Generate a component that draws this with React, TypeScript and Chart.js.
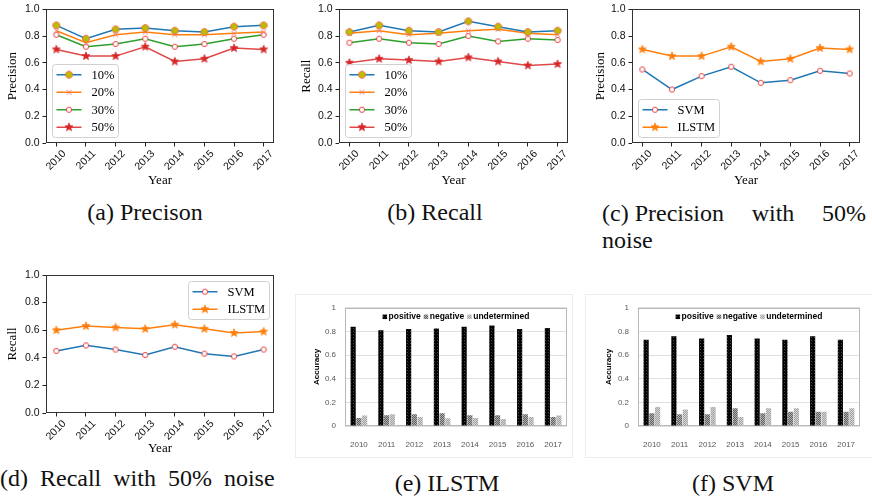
import React, { useEffect, useRef } from 'react';
import { Chart, registerables } from 'chart.js';
Chart.register(...registerables);

// ---------------- data ----------------
const years = [2010, 2011, 2012, 2013, 2014, 2015, 2016, 2017];
const yTicks = [0, 0.2, 0.4, 0.6, 0.8, 1.0];

const noiseLabels = ['10%', '20%', '30%', '50%'];
const methodLabels = ['SVM', 'ILSTM'];
const barLabels = ['positive', 'negative', 'undetermined'];

const precision10 = [0.88, 0.78, 0.85, 0.86, 0.84, 0.83, 0.87, 0.88];
const precision20 = [0.84, 0.75, 0.81, 0.83, 0.81, 0.81, 0.82, 0.83];
const precision30 = [0.81, 0.72, 0.74, 0.78, 0.72, 0.74, 0.78, 0.81];
const precision50 = [0.70, 0.65, 0.65, 0.72, 0.61, 0.63, 0.71, 0.70];

const recall10 = [0.83, 0.88, 0.84, 0.83, 0.91, 0.87, 0.83, 0.84];
const recall20 = [0.82, 0.84, 0.81, 0.82, 0.84, 0.85, 0.82, 0.81];
const recall30 = [0.75, 0.78, 0.75, 0.74, 0.80, 0.76, 0.78, 0.77];
const recall50 = [0.60, 0.63, 0.62, 0.61, 0.64, 0.61, 0.58, 0.59];

const svmPrecision = [0.55, 0.40, 0.50, 0.57, 0.45, 0.47, 0.54, 0.52];
const ilstmPrecision = [0.70, 0.65, 0.65, 0.72, 0.61, 0.63, 0.71, 0.70];
const svmRecall = [0.45, 0.49, 0.46, 0.42, 0.48, 0.43, 0.41, 0.46];
const ilstmRecall = [0.60, 0.63, 0.62, 0.61, 0.64, 0.61, 0.58, 0.59];

const ilstmPositive = [0.84, 0.81, 0.82, 0.825, 0.84, 0.85, 0.82, 0.83];
const ilstmNegative = [0.068, 0.09, 0.10, 0.107, 0.09, 0.09, 0.10, 0.077];
const ilstmUndetermined = [0.088, 0.10, 0.077, 0.066, 0.068, 0.06, 0.077, 0.088];

const svmPositive = [0.73, 0.76, 0.74, 0.77, 0.74, 0.73, 0.76, 0.73];
const svmNegative = [0.107, 0.10, 0.10, 0.15, 0.107, 0.12, 0.12, 0.12];
const svmUndetermined = [0.16, 0.14, 0.16, 0.077, 0.15, 0.15, 0.12, 0.15];

// ---------------- styles ----------------
const SERIF = "'Liberation Serif', serif";
const SANS = "'Liberation Sans', sans-serif";

function makeMarker(kind: string, fill: string, stroke: string, r: number, lw = 1): HTMLCanvasElement {
  const size = Math.ceil(r * 2 + lw * 2 + 4);
  const c = document.createElement('canvas');
  c.width = size;
  c.height = size;
  const g = c.getContext('2d')!;
  const cx = size / 2, cy = size / 2;
  g.lineWidth = lw;
  g.fillStyle = fill;
  g.strokeStyle = stroke;
  g.beginPath();
  if (kind === 'octagon') {
    for (let k = 0; k < 8; k++) {
      const a = Math.PI / 8 + (k * Math.PI) / 4;
      const px = cx + r * Math.cos(a), py = cy + r * Math.sin(a);
      if (k) g.lineTo(px, py); else g.moveTo(px, py);
    }
    g.closePath();
    g.fill();
    g.stroke();
  } else if (kind === 'circle') {
    g.arc(cx, cy, r, 0, Math.PI * 2);
    g.fill();
    g.stroke();
  } else if (kind === 'star') {
    for (let k = 0; k < 10; k++) {
      const rr = k % 2 === 0 ? r : r * 0.42;
      const a = -Math.PI / 2 + (k * Math.PI) / 5;
      const px = cx + rr * Math.cos(a), py = cy + rr * Math.sin(a);
      if (k) g.lineTo(px, py); else g.moveTo(px, py);
    }
    g.closePath();
    g.fill();
    g.stroke();
  } else if (kind === 'x') {
    g.moveTo(cx - r, cy - r);
    g.lineTo(cx + r, cy + r);
    g.moveTo(cx + r, cy - r);
    g.lineTo(cx - r, cy + r);
    g.stroke();
  }
  return c;
}

function makePattern(rows: string[][]): CanvasPattern {
  const c = document.createElement('canvas');
  c.width = rows[0].length;
  c.height = rows.length;
  const g = c.getContext('2d')!;
  rows.forEach((row, y) => row.forEach((col, x) => { g.fillStyle = col; g.fillRect(x, y, 1, 1); }));
  return g.createPattern(c, 'repeat')!;
}

// ---------------- plugins ----------------
function framePlugin(color: string, before = false) {
  const draw = (chart: any) => {
    const { ctx, chartArea: a } = chart;
    ctx.save();
    ctx.strokeStyle = color;
    ctx.lineWidth = 1;
    const l = Math.round(a.left) + 0.5, t = Math.round(a.top) + 0.5;
    const r = Math.round(a.right) - 0.5, b = Math.round(a.bottom) - 0.5;
    ctx.strokeRect(l, t, r - l, b - t);
    ctx.restore();
  };
  return before ? { id: 'frame', beforeDatasetsDraw: draw } : { id: 'frame', afterDatasetsDraw: draw };
}

type LegItem = { label: string; color: string; marker: HTMLCanvasElement };

function boxLegendPlugin(items: LegItem[], loc: string) {
  return {
    id: 'boxLegend',
    afterDraw(chart: any) {
      const { ctx, chartArea: a } = chart;
      ctx.save();
      ctx.font = `12.5px ${SERIF}`;
      const inset = 6, padX = 4, lineLen = 25, gap = 10, padY = 1.5, rowH = 17.5, padR = 4;
      const tw = Math.max(...items.map((i) => ctx.measureText(i.label).width));
      const w = padX + lineLen + gap + tw + padR;
      const h = padY * 2 + rowH * items.length;
      let x0: number, y0: number;
      if (loc === 'lower left') { x0 = a.left + inset; y0 = a.bottom - inset - h; }
      else { x0 = a.right - inset - w; y0 = a.top + inset; }
      x0 = Math.round(x0) + 0.5; y0 = Math.round(y0) + 0.5;
      ctx.beginPath();
      ctx.roundRect(x0, y0, Math.round(w), Math.round(h), 3);
      ctx.fillStyle = 'rgba(255,255,255,0.85)';
      ctx.fill();
      ctx.strokeStyle = '#d0d0d0';
      ctx.lineWidth = 1;
      ctx.stroke();
      items.forEach((it, i) => {
        const cy = y0 + padY + rowH * (i + 0.5);
        const lx = x0 + padX;
        ctx.beginPath();
        ctx.strokeStyle = it.color;
        ctx.lineWidth = 1.5;
        ctx.moveTo(lx, cy);
        ctx.lineTo(lx + lineLen, cy);
        ctx.stroke();
        const m = it.marker;
        ctx.drawImage(m, lx + lineLen / 2 - m.width / 2, cy - m.height / 2);
        ctx.fillStyle = '#000';
        ctx.textBaseline = 'middle';
        ctx.textAlign = 'left';
        ctx.fillText(it.label, lx + lineLen + gap, cy + 0.5);
      });
      ctx.restore();
    },
  };
}

function rowLegendPlugin(items: { label: string; fill: any }[]) {
  return {
    id: 'rowLegend',
    afterDraw(chart: any) {
      const { ctx, chartArea: a } = chart;
      ctx.save();
      ctx.font = `bold 8.5px ${SANS}`;
      ctx.textBaseline = 'middle';
      const sq = 4.5, g1 = 1.5, g2 = 3;
      const ws = items.map((i) => ctx.measureText(i.label).width);
      const total = ws.reduce((s, w) => s + sq + g1 + w, 0) + g2 * (items.length - 1);
      let x = (a.left + a.right) / 2 - total / 2;
      const y = a.top + 9;
      items.forEach((it, i) => {
        ctx.fillStyle = it.fill;
        ctx.fillRect(x, y - sq / 2, sq, sq);
        x += sq + g1;
        ctx.fillStyle = '#000';
        ctx.fillText(it.label, x, y);
        x += ws[i] + g2;
      });
      ctx.restore();
    },
  };
}

// ---------------- configs ----------------
type Geo = { w: number; h: number; yW: number; padTop: number; padRight: number; xH: number; yTitlePad: number; xTitlePad: number };

function lineConfig(series: LegItem[], values: number[][], yTitle: string, geo: Geo, loc: string) {
  return {
    type: 'line',
    data: {
      datasets: series.map((s, i) => ({
        label: s.label,
        data: years.map((x, j) => ({ x, y: values[i][j] })),
        borderColor: s.color,
        backgroundColor: s.color,
        borderWidth: 1.5,
        pointStyle: s.marker,
        pointRadius: 4,
        fill: false,
        tension: 0,
      })),
    },
    options: {
      animation: false,
      responsive: false,
      maintainAspectRatio: false,
      events: [],
      layout: { padding: { top: geo.padTop, right: geo.padRight, left: 0, bottom: 0 } },
      plugins: { legend: { display: false }, tooltip: { enabled: false } },
      scales: {
        x: {
          type: 'linear',
          min: 2009.65,
          max: 2017.35,
          afterBuildTicks: (s: any) => { s.ticks = years.map((v) => ({ value: v })); },
          afterFit: (s: any) => { s.height = geo.xH; },
          ticks: {
            autoSkip: false, maxRotation: 45, minRotation: 45, labelOffset: 8, padding: 1,
            font: { family: SANS, size: 10.5 }, color: '#111',
            callback: (v: any) => String(v),
          },
          grid: { display: true, drawOnChartArea: false, drawTicks: true, tickLength: 3.5, color: '#222' },
          border: { display: false },
          title: { display: true, text: 'Year', color: '#000', font: { family: SERIF, size: 13 }, padding: { top: 0, bottom: geo.xTitlePad } },
        },
        y: {
          type: 'linear',
          min: 0,
          max: 1,
          afterBuildTicks: (s: any) => { s.ticks = yTicks.map((v) => ({ value: v })); },
          afterFit: (s: any) => { s.width = geo.yW; },
          ticks: { font: { family: SANS, size: 10.5 }, color: '#111', padding: 3, callback: (v: any) => Number(v).toFixed(1) },
          grid: { display: true, drawOnChartArea: false, drawTicks: true, tickLength: 3.5, color: '#222' },
          border: { display: false },
          title: { display: true, text: yTitle, color: '#000', font: { family: SERIF, size: 13 }, padding: { top: geo.yTitlePad, bottom: 0 } },
        },
      },
    },
    plugins: [framePlugin('#333'), boxLegendPlugin(series, loc)],
  };
}

function barConfig(values: number[][], fills: any[], geo: Geo) {
  return {
    type: 'bar',
    data: {
      labels: years.map(String),
      datasets: barLabels.map((label, i) => ({
        label,
        data: values[i],
        backgroundColor: fills[i],
        borderWidth: 0,
        categoryPercentage: 0.62,
        barPercentage: 0.9,
      })),
    },
    options: {
      animation: false,
      responsive: false,
      maintainAspectRatio: false,
      events: [],
      layout: { padding: { top: geo.padTop, right: geo.padRight, left: 0, bottom: 0 } },
      plugins: { legend: { display: false }, tooltip: { enabled: false } },
      scales: {
        x: {
          afterFit: (s: any) => { s.height = geo.xH; },
          ticks: { font: { family: SANS, size: 8 }, color: '#595959', padding: 6 },
          grid: { display: false },
          border: { display: false },
        },
        y: {
          min: 0,
          max: 1,
          afterBuildTicks: (s: any) => { s.ticks = yTicks.map((v) => ({ value: v })); },
          afterFit: (s: any) => { s.width = geo.yW; },
          ticks: {
            font: { family: SANS, size: 8 }, color: '#595959', padding: 9,
            callback: (v: any) => (v === 0 ? '0' : v === 1 ? '1' : Number(v).toFixed(1)),
          },
          grid: { color: '#e0e0e0', drawTicks: false, lineWidth: 1 },
          border: { display: false },
          title: { display: true, text: 'Accuracy', color: '#000', font: { family: SANS, size: 8, weight: 'bold' }, padding: { top: geo.yTitlePad, bottom: 0 } },
        },
      },
    },
    plugins: [framePlugin('#b8b8b8', true), rowLegendPlugin(barLabels.map((label, i) => ({ label, fill: fills[i] })))],
  };
}

// ---------------- component ----------------
function ChartBox({ make, left, top, width, height }: { make: () => any; left: number; top: number; width: number; height: number }) {
  const ref = useRef<HTMLCanvasElement>(null);
  useEffect(() => {
    const chart = new Chart(ref.current as HTMLCanvasElement, make());
    return () => chart.destroy();
  }, []);
  return <canvas ref={ref} width={width} height={height} style={{ position: 'absolute', left, top, width, height }} />;
}

const capStyle: React.CSSProperties = {
  position: 'absolute',
  fontFamily: SERIF,
  fontSize: 24,
  lineHeight: '24px',
  color: '#111',
  whiteSpace: 'nowrap',
};

function Caption({ text, cx, cy, left }: { text: string; cx?: number; cy: number; left?: number }) {
  if (left !== undefined) {
    return <div style={{ ...capStyle, left, top: cy - 12, wordSpacing: 6 }}>{text}</div>;
  }
  return <div style={{ ...capStyle, left: (cx as number) - 200, width: 400, top: cy - 12, textAlign: 'center' }}>{text}</div>;
}

export default function App() {
  const makers = () => {
    const m10 = makeMarker('octagon', '#bcbc00', '#f06a4a', 3.6, 1);
    const m20 = makeMarker('x', 'rgba(0,0,0,0)', '#f07a7a', 2.4, 1);
    const m30 = makeMarker('circle', '#ffffff', '#e84545', 2.6, 1);
    const m50 = makeMarker('star', '#d62728', '#d62728', 4.2, 0.8);
    const mStarO = makeMarker('star', '#ff7f0e', '#ff7f0e', 4.2, 0.8);
    return { m10, m20, m30, m50, mStarO };
  };

  const noiseSeries = () => {
    const { m10, m20, m30, m50 } = makers();
    const colors = ['#1f77b4', '#ff7f0e', '#2ca02c', '#e04848'];
    const marks = [m10, m20, m30, m50];
    return noiseLabels.map((label, i) => ({ label, color: colors[i], marker: marks[i] }));
  };
  const methodSeries = () => {
    const { m30, mStarO } = makers();
    const colors = ['#1f77b4', '#ff7f0e'];
    const marks = [m30, mStarO];
    return methodLabels.map((label, i) => ({ label, color: colors[i], marker: marks[i] }));
  };
  const fills = () => [
    makePattern([['#000', '#000', '#000'], ['#000', '#4a4a4a', '#000'], ['#000', '#000', '#1a1a1a']]),
    makePattern([['#606060', '#b0b0b0'], ['#b0b0b0', '#606060']]),
    makePattern([['#a2a2a2', '#d6d6d6'], ['#d6d6d6', '#a2a2a2']]),
  ];

  const geoA: Geo = { w: 290, h: 195, yW: 46, padTop: 6, padRight: 16, xH: 52, yTitlePad: 5, xTitlePad: 7 };
  const geoB: Geo = { w: 290, h: 195, yW: 49, padTop: 6, padRight: 12, xH: 52, yTitlePad: 9, xTitlePad: 7 };
  const geoC: Geo = { w: 292, h: 195, yW: 52, padTop: 6, padRight: 12, xH: 52, yTitlePad: 13, xTitlePad: 7 };
  const geoD: Geo = { w: 290, h: 200, yW: 46, padTop: 15, padRight: 16, xH: 47, yTitlePad: 5, xTitlePad: 4 };
  const geoE: Geo = { w: 278, h: 164, yW: 50, padTop: 10, padRight: 6, xH: 32, yTitlePad: 17, xTitlePad: 0 };
  const geoF: Geo = { w: 281, h: 164, yW: 53, padTop: 10, padRight: 6, xH: 32, yTitlePad: 19, xTitlePad: 0 };

  return (
    <div style={{ position: 'absolute', left: 0, top: 0, width: 872, height: 498, background: '#fff', overflow: 'hidden' }}>
      <ChartBox left={0} top={0} width={geoA.w} height={geoA.h}
        make={() => lineConfig(noiseSeries(), [precision10, precision20, precision30, precision50], 'Precision', geoA, 'lower left')} />
      <ChartBox left={290} top={0} width={geoB.w} height={geoB.h}
        make={() => lineConfig(noiseSeries(), [recall10, recall20, recall30, recall50], 'Recall', geoB, 'lower left')} />
      <ChartBox left={580} top={0} width={geoC.w} height={geoC.h}
        make={() => lineConfig(methodSeries(), [svmPrecision, ilstmPrecision], 'Precision', geoC, 'lower left')} />
      <ChartBox left={0} top={260} width={geoD.w} height={geoD.h}
        make={() => lineConfig(methodSeries(), [svmRecall, ilstmRecall], 'Recall', geoD, 'upper right')} />

      <div style={{ position: 'absolute', left: 295, top: 294, width: 276, height: 162, border: '1px solid #ececec' }} />
      <div style={{ position: 'absolute', left: 585, top: 294, width: 290, height: 162, border: '1px solid #ececec' }} />
      <ChartBox left={295} top={294} width={geoE.w} height={geoE.h}
        make={() => barConfig([ilstmPositive, ilstmNegative, ilstmUndetermined], fills(), geoE)} />
      <ChartBox left={585} top={294} width={geoF.w} height={geoF.h}
        make={() => barConfig([svmPositive, svmNegative, svmUndetermined], fills(), geoF)} />

      <Caption text="(a) Precison" cx={145} cy={212} />
      <Caption text="(b) Recall" cx={435} cy={212} />
      <div style={{ ...capStyle, left: 602, width: 264, top: 201, display: 'flex', justifyContent: 'space-between' }}>
        <span>(c) Precision</span><span>with</span><span>50%</span>
      </div>
      <div style={{ ...capStyle, left: 602, top: 228 }}>noise</div>
      <Caption text="(d) Recall with 50% noise" left={0} cy={478} />
      <Caption text="(e) ILSTM" cx={447} cy={483} />
      <Caption text="(f) SVM" cx={733} cy={483} />
    </div>
  );
}
